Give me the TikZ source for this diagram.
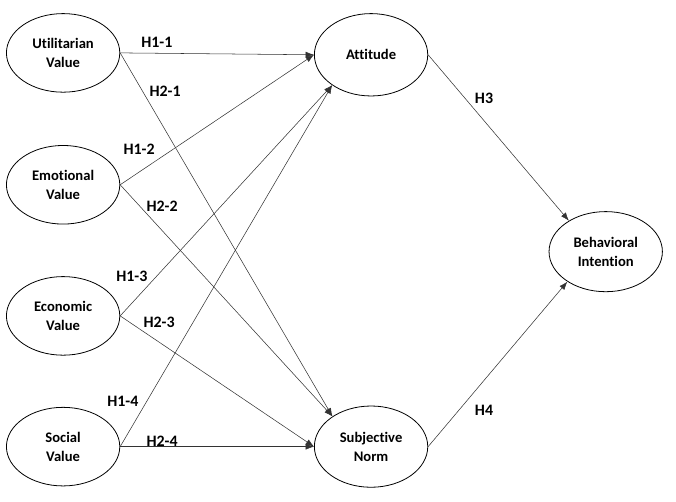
\documentclass[tikz,border=0pt]{standalone}
\usepackage{fontspec}
\setmainfont{Carlito}[Ligatures=NoCommon]
\usetikzlibrary{arrows.meta,positioning,shapes.geometric}

\begin{document}
\begin{tikzpicture}[>={Latex[length=2.2mm,width=1.6mm]},
    construct/.style={ellipse, draw, semithick, minimum width=3cm, minimum height=2.08cm, inner sep=0pt, align=center, font=\bfseries\fontsize{11}{14}\selectfont},
    hyp/.style={font=\bfseries\fontsize{12}{14}\selectfont},
    path/.style={->, thin, black!80}]

    \useasboundingbox (0,0) rectangle (17.89,13.28);

    % Values
    \node[construct] (util) at (1.67,11.88) {Utilitarian\\Value};
    \node[construct] (emo) at (1.67,8.39) {Emotional\\Value};
    \node[construct] (eco) at (1.67,4.92) {Economic\\Value};
    \node[construct] (soc) at (1.67,1.46) {Social\\Value};

    % Mediators and outcome
    \node[construct, minimum height=2.18cm] (att) at (9.82,11.83) {Attitude};
    \node[construct, minimum height=2.15cm] (norm) at (9.82,1.46) {Subjective\\Norm};
    \node[construct, minimum height=2.12cm] (intent) at (16.03,6.62) {Behavioral\\Intention};

    % Paths to attitude
    \draw[path] (util.east) -- (att.west);
    \draw[path] (emo.east) -- (att.west);
    \draw[path] (eco.east) -- (att.218);
    \draw[path] (soc.east) -- (att.218);

    % Paths to subjective norm
    \draw[path] (util.east) -- (norm.142);
    \draw[path] (emo.east) -- (norm.142);
    \draw[path] (eco.east) -- (norm.west);
    \draw[path] (soc.east) -- (norm.west);

    % Paths to intention
    \draw[path] (att.east) -- (intent.140);
    \draw[path] (norm.east) -- (intent.218);

    % Hypotheses
    \node[hyp] (h11) at (4.15,12.15) {H1-1};
    \node[hyp] (h21) at (4.37,10.87) {H2-1};
    \node[hyp] (h12) at (3.68,9.34) {H1-2};
    \node[hyp] (h22) at (4.29,7.83) {H2-2};
    \node[hyp] (h13) at (3.49,5.98) {H1-3};
    \node[hyp] (h23) at (4.21,4.76) {H2-3};
    \node[hyp] (h14) at (3.25,2.65) {H1-4};
    \node[hyp] (h24) at (4.29,1.61) {H2-4};
    \node[hyp] (h3) at (12.81,10.69) {H3};
    \node[hyp] (h4) at (12.81,2.41) {H4};

\end{tikzpicture}
\end{document}
